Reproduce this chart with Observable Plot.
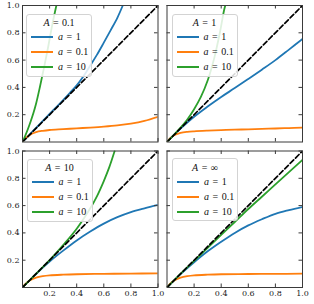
<!DOCTYPE html>
<html><head><meta charset="utf-8">
<script src="https://cdn.jsdelivr.net/npm/d3@7"></script>
<script src="https://cdn.jsdelivr.net/npm/@observablehq/plot@0.6"></script>
<style>
html,body{margin:0;padding:0;background:#fff;}
#wrap{position:relative;width:314px;height:304px;overflow:hidden;}
.leg{position:absolute;width:66px;height:63px;box-sizing:border-box;border:1px solid #d3d3d3;border-radius:3px;background:rgba(255,255,255,0.85);font-family:"Liberation Serif","DejaVu Serif",serif;font-size:10px;color:#111;}
.leg .ttl{position:absolute;left:0;right:0;top:2.5px;text-align:center;line-height:12px;white-space:nowrap;word-spacing:1px;}
.leg .row{position:absolute;left:0;right:0;height:12px;line-height:12px;white-space:nowrap;}
.leg .smp{position:absolute;left:4px;width:22px;top:5px;height:0;border-top:2px solid;}
.leg .lab{position:absolute;left:31px;top:0;word-spacing:1px;}
i{font-style:italic;}
</style></head><body><div id="wrap"></div>
<script>
// ---- data ----
const panelTitles = ["0.1", "1", "10", "∞"];
const panelCol = [0, 1, 0, 1];
const panelRow = [0, 0, 1, 1];
const seriesLabels = ["1", "0.1", "10"];
const seriesColors = ["#1f77b4", "#ff7f0e", "#2ca02c"];
const tickValues = [0.2, 0.4, 0.6, 0.8, 1.0];
const diagonal = [[0, 0], [1, 1]];

// A = 0.1
const A01_a1 = [[0,0],[0.05,0.052],[0.1,0.104],[0.15,0.155],[0.2,0.206],[0.25,0.256],[0.3,0.307],[0.35,0.36],[0.4,0.415],[0.45,0.482],[0.5,0.56],[0.55,0.64],[0.6,0.728],[0.65,0.818],[0.7,0.91],[0.74,1.0]];
const A01_a01 = [[0,0],[0.02,0.025],[0.05,0.05],[0.1,0.072],[0.15,0.082],[0.2,0.088],[0.3,0.094],[0.4,0.1],[0.5,0.106],[0.6,0.113],[0.7,0.122],[0.8,0.135],[0.9,0.155],[1.0,0.185]];
const A01_a10 = [[0,0],[0.02,0.045],[0.04,0.095],[0.06,0.15],[0.08,0.21],[0.1,0.28],[0.13,0.41],[0.16,0.55],[0.19,0.7],[0.22,0.86],[0.25,1.0]];
// A = 1
const A1_a1 = [[0,0],[0.05,0.05],[0.1,0.098],[0.2,0.185],[0.3,0.26],[0.4,0.33],[0.5,0.395],[0.6,0.462],[0.7,0.53],[0.8,0.6],[0.9,0.677],[1.0,0.755]];
const A1_a01 = [[0,0],[0.02,0.025],[0.05,0.048],[0.1,0.066],[0.15,0.074],[0.2,0.078],[0.3,0.083],[0.4,0.087],[0.5,0.09],[0.6,0.093],[0.7,0.096],[0.8,0.099],[0.9,0.102],[1.0,0.106]];
const A1_a10 = [[0,0],[0.05,0.052],[0.1,0.105],[0.15,0.165],[0.2,0.24],[0.25,0.33],[0.3,0.45],[0.35,0.62],[0.39,0.8],[0.42,0.96],[0.43,1.0]];
// A = 10
const A10_a1 = [[0,0],[0.05,0.05],[0.1,0.099],[0.2,0.19],[0.3,0.27],[0.4,0.345],[0.5,0.41],[0.6,0.468],[0.7,0.515],[0.8,0.552],[0.9,0.58],[1.0,0.605]];
const A10_a01 = [[0,0],[0.02,0.025],[0.05,0.05],[0.1,0.072],[0.15,0.083],[0.2,0.089],[0.3,0.094],[0.4,0.097],[0.6,0.1],[0.8,0.102],[1.0,0.103]];
const A10_a10 = [[0,0],[0.05,0.05],[0.1,0.1],[0.2,0.2],[0.3,0.31],[0.4,0.43],[0.5,0.58],[0.55,0.67],[0.6,0.78],[0.64,0.88],[0.68,1.0]];
// A = infinity
const Ainf_a1 = [[0,0],[0.05,0.05],[0.1,0.098],[0.2,0.185],[0.3,0.265],[0.4,0.335],[0.5,0.4],[0.6,0.455],[0.7,0.5],[0.8,0.54],[0.9,0.567],[1.0,0.59]];
const Ainf_a01 = [[0,0],[0.02,0.025],[0.05,0.05],[0.1,0.072],[0.15,0.083],[0.2,0.089],[0.3,0.094],[0.4,0.097],[0.6,0.099],[0.8,0.1],[1.0,0.101]];
const Ainf_a10 = [[0,0],[0.1,0.1],[0.2,0.195],[0.3,0.29],[0.4,0.385],[0.5,0.48],[0.6,0.575],[0.7,0.665],[0.8,0.755],[0.9,0.845],[1.0,0.935]];

const curves = [
  [A01_a1, A01_a01, A01_a10],
  [A1_a1, A1_a01, A1_a10],
  [A10_a1, A10_a01, A10_a10],
  [Ainf_a1, Ainf_a01, Ainf_a10]
];

// ---- table ----
const rows = [];
curves.forEach((set, p) => set.forEach((pts, s) => pts.forEach(([x, y]) =>
  rows.push({x, y, col: panelCol[p], row: panelRow[p], series: seriesLabels[s], key: p + "-" + s}))));

// ---- layout ----
const W = 314, H = 304, mL = 22, mR = 12, mT = 5, mB = 17;
const gapX = 9, gapY = 9;
const innerW = W - mL - mR, innerH = H - mT - mB;
const bandX = (innerW - gapX) / 2, bandY = (innerH - gapY) / 2;
const pX = gapX / (bandX + gapX), pY = gapY / (bandY + gapY);
const tk = 3.5, frameColor = "#3a3a3a";

const plot = Plot.plot({
  width: W, height: H,
  marginLeft: mL, marginRight: mR, marginTop: mT, marginBottom: mB,
  style: {fontFamily: "'DejaVu Serif', serif", fontSize: "8px", color: "#222", background: "#fff"},
  fx: {domain: [0, 1], axis: null, paddingInner: pX, paddingOuter: 0, round: false},
  fy: {domain: [0, 1], axis: null, paddingInner: pY, paddingOuter: 0, round: false},
  x: {domain: [0, 1]},
  y: {domain: [0, 1]},
  color: {domain: seriesLabels, range: seriesColors},
  marks: [
    Plot.line(rows, {x: "x", y: "y", fx: "col", fy: "row", z: "key", stroke: "series",
      strokeWidth: 1.8, curve: "catmull-rom", clip: true}),
    Plot.line(diagonal, {x: d => d[0], y: d => d[1], stroke: "black", strokeWidth: 1.7,
      strokeDasharray: "5,2.6", clip: true}),
    Plot.frame({stroke: frameColor, strokeWidth: 1}),
    Plot.tickX(tickValues, {x: d => d, stroke: frameColor, insetBottom: bandY - tk}),
    Plot.tickX(tickValues, {x: d => d, stroke: frameColor, insetTop: bandY - tk}),
    Plot.tickY(tickValues, {y: d => d, stroke: frameColor, insetRight: bandX - tk}),
    Plot.tickY(tickValues, {y: d => d, stroke: frameColor, insetLeft: bandX - tk}),
    Plot.axisX({ticks: tickValues, tickSize: 0, tickPadding: 3, tickFormat: d3.format(".1f"), label: null}),
    Plot.axisY({ticks: tickValues, tickSize: 0, tickPadding: 3, tickFormat: d3.format(".1f"), label: null})
  ]
});
const wrap = document.getElementById("wrap");
wrap.appendChild(plot);

// ---- legends ----
const legPos = [[26, 13.5], [171.5, 13.5], [26.5, 158.5], [172, 158]];
panelTitles.forEach((t, p) => {
  const d = document.createElement("div");
  d.className = "leg";
  d.style.left = legPos[p][0] + "px";
  d.style.top = legPos[p][1] + "px";
  let html = `<div class="ttl"><i>A</i> = ${t}</div>`;
  seriesLabels.forEach((s, i) => {
    html += `<div class="row" style="top:${16.7 + 15 * i}px"><div class="smp" style="border-color:${seriesColors[i]}"></div><span class="lab"><i>a</i> = ${s}</span></div>`;
  });
  d.innerHTML = html;
  wrap.appendChild(d);
});
</script></body></html>
